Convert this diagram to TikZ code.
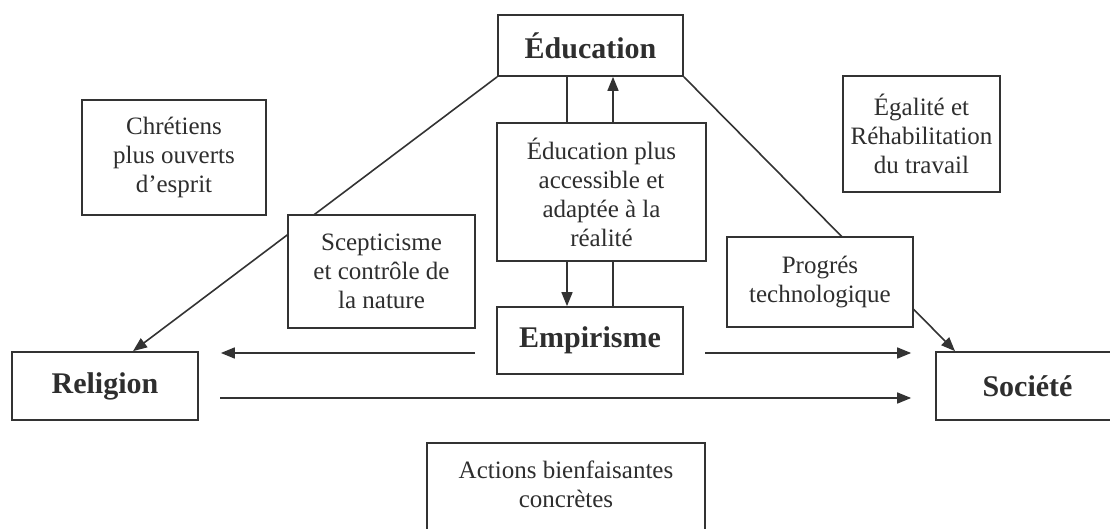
\documentclass[tikz,border=0pt]{standalone}
\usepackage{fontspec}
\setmainfont{Liberation Serif}
\usetikzlibrary{arrows.meta}
\definecolor{linec}{HTML}{333333}
\definecolor{textc}{HTML}{2E2E2E}
\begin{document}
\begin{tikzpicture}[x=1pt,y=-1pt,
  box/.style={draw=linec, line width=1.7pt, fill=white, inner sep=0pt, align=center,
    text=textc, font=\fontsize{25}{29}\selectfont},
  bigbox/.style={box, font=\fontsize{30}{34}\selectfont\bfseries},
  txt/.style={inner sep=0pt, align=center, text=textc, font=\fontsize{25}{29}\selectfont},
  ln/.style={draw=linec, line width=1.6pt},
  arr/.style={ln, -{Triangle[length=14pt,width=11pt]}}]
\useasboundingbox (0,0) rectangle (1110,529);
\clip (0,0) rectangle (1110,529);
% main nodes
\node[bigbox, minimum width=185, minimum height=61] (edu) at (590.5,45.5) {Éducation};
\node[box, minimum width=209, minimum height=138] (mid) at (601.5,192) {Éducation plus\\accessible et\\adaptée à la\\réalité};
\node[bigbox, minimum width=186, minimum height=67] (emp) at (590,340.5) {Empirisme};
\node[bigbox, minimum width=186, minimum height=68] (rel) at (105,386) {Religion};
\node[bigbox, minimum width=183, minimum height=68] (soc) at (1027.5,386) {Société};
\node[box, minimum width=184, minimum height=115] (chr) at (174,157.5) {Chrétiens\\plus ouverts\\d’esprit};
\node[box, minimum width=157, minimum height=116] (ega) at (921.5,134) {Égalité et\\Réhabilitation\\du travail};
\node[box, minimum width=278, minimum height=110, anchor=north] (actbox) at (566,442) {};
\node[txt] (act) at (566,484) {Actions bienfaisantes\\concrètes};
% diagonals
\draw[arr] (edu.south west) -- ([xshift=28pt]rel.north);
\draw[arr] (edu.south east) -- ([xshift=-72.5pt]soc.north);
% overlay boxes
\node[box, minimum width=187, minimum height=113] (scep) at (381.5,271.5) {Scepticisme\\et contrôle de\\la nature};
\node[box, minimum width=186, minimum height=90] (prog) at (820,282) {Progrés\\technologique};
% vertical connectors
\draw[ln] ([xshift=-23.5pt]edu.south) -- ([xshift=-23.5pt]edu.south |- mid.north);
\draw[arr] ([xshift=22.5pt]edu.south |- mid.north) -- ([xshift=22.5pt]edu.south);
\draw[arr] ([xshift=-23.5pt]edu.south |- mid.south) -- ([xshift=-23.5pt]edu.south |- emp.north);
\draw[ln] ([xshift=22.5pt]edu.south |- mid.south) -- ([xshift=22.5pt]edu.south |- emp.north);
% horizontal connectors
\coordinate (ula) at (475,353);
\coordinate (ura) at (705,353);
\coordinate (lwa) at (220,398);
\draw[arr] (ula) -- ([xshift=22pt]rel.east |- ula);
\draw[arr] (ura) -- ([xshift=-24pt]soc.west |- ura);
\draw[arr] (lwa) -- ([xshift=-24pt]soc.west |- lwa);
\end{tikzpicture}
\end{document}
